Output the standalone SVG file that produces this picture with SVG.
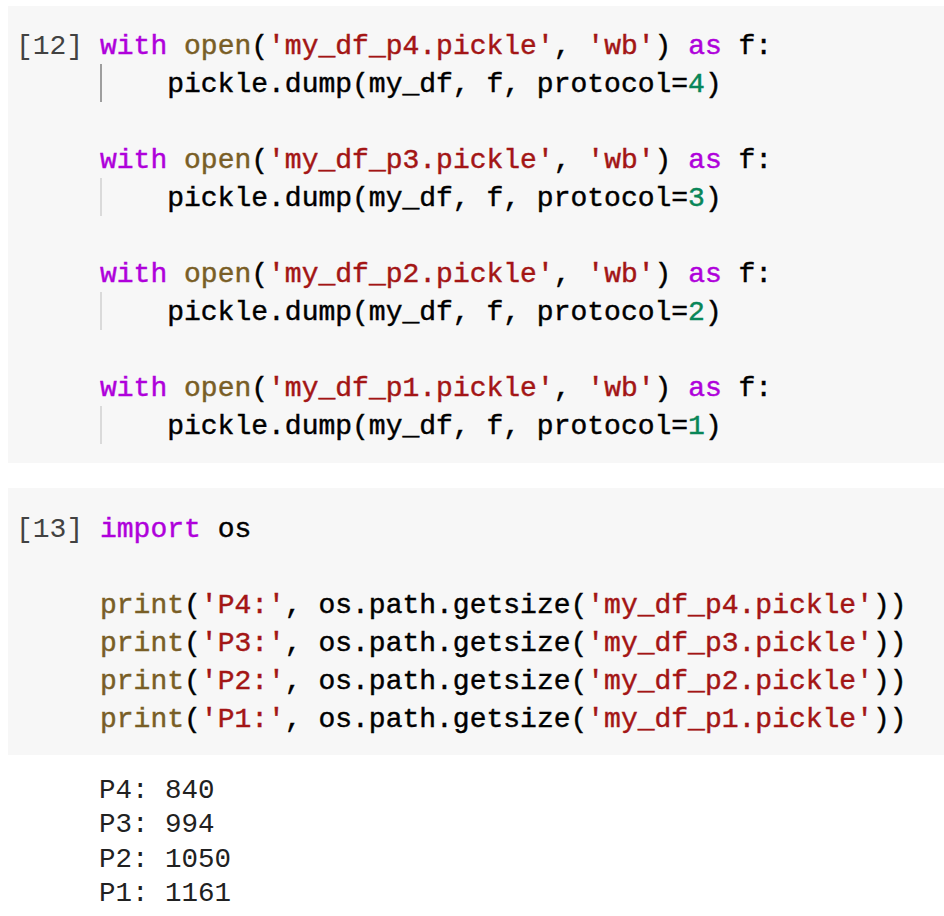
<svg xmlns="http://www.w3.org/2000/svg" width="944" height="916" viewBox="0 0 944 916">
<style>
.bg{fill:#f7f7f7}
.code{font-family:"Liberation Mono","Courier New",monospace;font-size:28px;fill:#000;stroke:#000;stroke-width:0.45;white-space:pre}
.k{fill:#af00db;stroke:#af00db}
.f{fill:#795e26;stroke:#795e26}
.s{fill:#a31515;stroke:#a31515}
.n{fill:#098658;stroke:#098658}
.num{font-family:"Liberation Mono","Courier New",monospace;font-size:28px;fill:#424242;white-space:pre}
.out{font-family:"Liberation Mono","Courier New",monospace;font-size:27.5px;fill:#212121;white-space:pre}
.guide1{fill:#9e9e9e}
.guide{fill:#dadada}
</style>
<g id="cell12">
<rect class="bg" x="8" y="6" width="936" height="457"/>
<text class="num" x="16" y="54">[12]</text>
<rect class="guide1" x="100" y="64" width="2" height="38"/>
<rect class="guide" x="100" y="178" width="2" height="38"/>
<rect class="guide" x="100" y="292" width="2" height="38"/>
<rect class="guide" x="100" y="406" width="2" height="38"/>
<text class="code" x="100" y="54" xml:space="preserve"><tspan class="k">with</tspan> <tspan class="f">open</tspan>(<tspan class="s">'my_df_p4.pickle'</tspan>, <tspan class="s">'wb'</tspan>) <tspan class="k">as</tspan> f:</text>
<text class="code" x="100" y="92" xml:space="preserve">    pickle.dump(my_df, f, protocol=<tspan class="n">4</tspan>)</text>
<text class="code" x="100" y="168" xml:space="preserve"><tspan class="k">with</tspan> <tspan class="f">open</tspan>(<tspan class="s">'my_df_p3.pickle'</tspan>, <tspan class="s">'wb'</tspan>) <tspan class="k">as</tspan> f:</text>
<text class="code" x="100" y="206" xml:space="preserve">    pickle.dump(my_df, f, protocol=<tspan class="n">3</tspan>)</text>
<text class="code" x="100" y="282" xml:space="preserve"><tspan class="k">with</tspan> <tspan class="f">open</tspan>(<tspan class="s">'my_df_p2.pickle'</tspan>, <tspan class="s">'wb'</tspan>) <tspan class="k">as</tspan> f:</text>
<text class="code" x="100" y="320" xml:space="preserve">    pickle.dump(my_df, f, protocol=<tspan class="n">2</tspan>)</text>
<text class="code" x="100" y="396" xml:space="preserve"><tspan class="k">with</tspan> <tspan class="f">open</tspan>(<tspan class="s">'my_df_p1.pickle'</tspan>, <tspan class="s">'wb'</tspan>) <tspan class="k">as</tspan> f:</text>
<text class="code" x="100" y="434" xml:space="preserve">    pickle.dump(my_df, f, protocol=<tspan class="n">1</tspan>)</text>
</g>
<g id="cell13">
<rect class="bg" x="8" y="488" width="936" height="267"/>
<text class="num" x="16" y="537">[13]</text>
<text class="code" x="100" y="537" xml:space="preserve"><tspan class="k">import</tspan> os</text>
<text class="code" x="100" y="613" xml:space="preserve"><tspan class="f">print</tspan>(<tspan class="s">'P4:'</tspan>, os.path.getsize(<tspan class="s">'my_df_p4.pickle'</tspan>))</text>
<text class="code" x="100" y="651" xml:space="preserve"><tspan class="f">print</tspan>(<tspan class="s">'P3:'</tspan>, os.path.getsize(<tspan class="s">'my_df_p3.pickle'</tspan>))</text>
<text class="code" x="100" y="689" xml:space="preserve"><tspan class="f">print</tspan>(<tspan class="s">'P2:'</tspan>, os.path.getsize(<tspan class="s">'my_df_p2.pickle'</tspan>))</text>
<text class="code" x="100" y="727" xml:space="preserve"><tspan class="f">print</tspan>(<tspan class="s">'P1:'</tspan>, os.path.getsize(<tspan class="s">'my_df_p1.pickle'</tspan>))</text>
</g>
<g id="output13">
<text class="out" x="99" y="798" xml:space="preserve">P4: 840</text>
<text class="out" x="99" y="832" xml:space="preserve">P3: 994</text>
<text class="out" x="99" y="867" xml:space="preserve">P2: 1050</text>
<text class="out" x="99" y="901" xml:space="preserve">P1: 1161</text>
</g>
</svg>
